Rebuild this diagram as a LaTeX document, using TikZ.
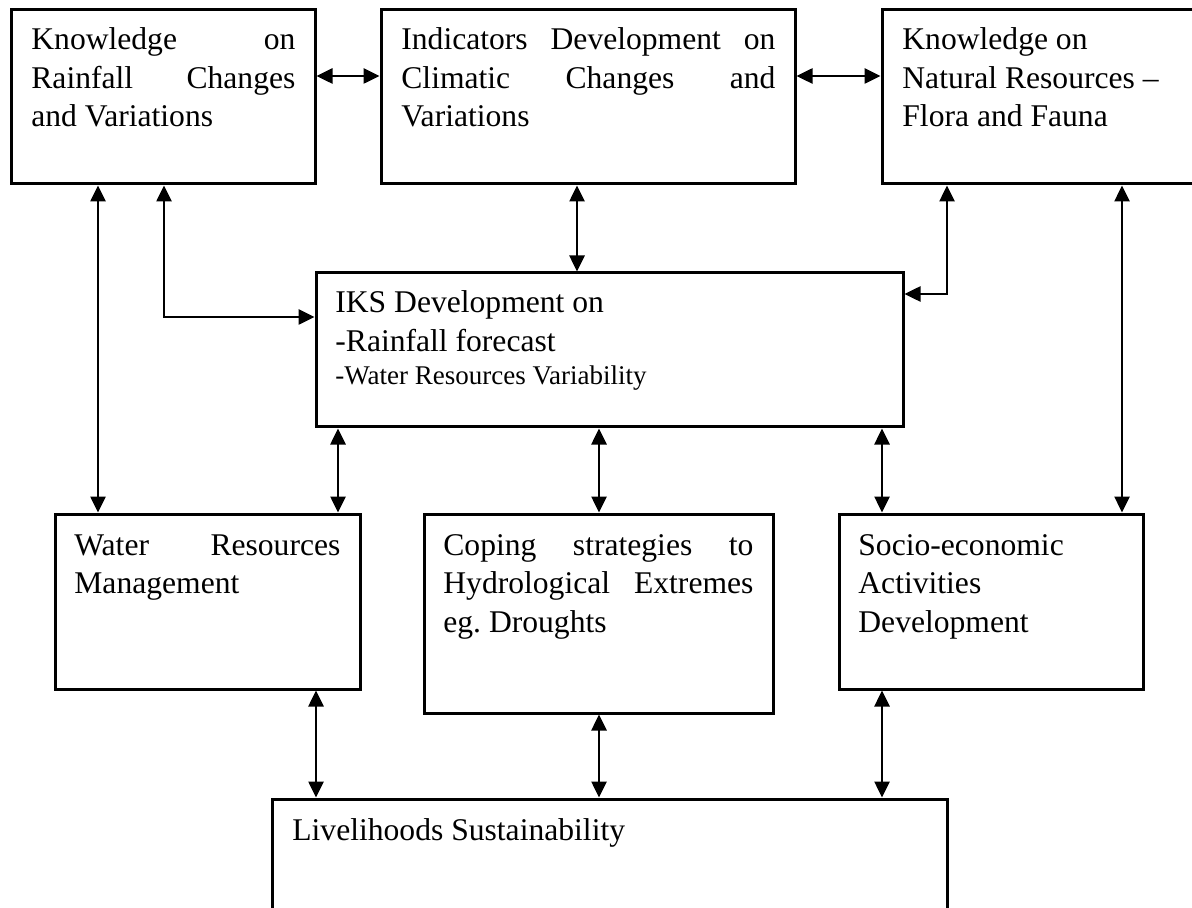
\documentclass[tikz,border=0pt]{standalone}
\usepackage{fontspec}
\setmainfont{Liberation Serif}
\usetikzlibrary{fit,arrows.meta,calc}
\frenchspacing
\newcommand{\bigtxt}{\fontsize{15.8pt}{19.25pt}\selectfont}
\newcommand{\smalltxt}{\fontsize{13.5pt}{16pt}\selectfont}
\begin{document}
\begin{tikzpicture}[x=0.5pt,y=-0.5pt,
  box/.style={draw,line width=1.5pt,inner sep=0pt,fill=none},
  txt/.style={inner sep=0pt,anchor=base west,font=\bigtxt},
  arr/.style={line width=1.3pt,{Triangle[length=8pt,width=7.5pt]}-{Triangle[length=8pt,width=7.5pt]}}]
\clip (0,0) rectangle (1192,908);
\fill[white] (0,0) rectangle (1192,908);
% boxes
\node[box,fit={(11,10) (315,184)}] (A) {};
\node[box,fit={(381,10) (795,184)}] (B) {};
\node[box,fit={(882,10) (1230,184)}] (C) {};
\node[box,fit={(316,273) (903,427)}] (I) {};
\node[box,fit={(55,514) (360,689)}] (W) {};
\node[box,fit={(424,514) (773,713)}] (P) {};
\node[box,fit={(839,514) (1143,689)}] (S) {};
\node[box,fit={(272,799) (947,960)}] (L) {};
% texts
\node[txt] (At) at (31,50) {\parbox[t]{132pt}{Knowledge\hfill on\\Rainfall\hfill Changes\\and Variations}};
\node[txt] (Bt) at (401,50) {\parbox[t]{187pt}{Indicators\hfill Development\hfill on\\Climatic\hfill Changes\hfill and\\Variations}};
\node[txt] (Ct) at (902,50) {\parbox[t]{160pt}{Knowledge on\\Natural Resources --\\Flora and Fauna}};
\node[txt] (It) at (335,313) {\parbox[t]{270pt}{IKS Development on\\-Rainfall forecast\\[-2.6pt]{\smalltxt -Water Resources Variability}}};
\node[txt] (Wt) at (74,555) {\parbox[t]{133pt}{Water\hfill Resources\\Management}};
\node[txt] (Pt) at (443,555) {\parbox[t]{155pt}{Coping\hfill strategies\hfill to\\Hydrological\hfill Extremes\\eg. Droughts}};
\node[txt] (St) at (858,555) {\parbox[t]{140pt}{Socio-economic\\Activities\\Development}};
\node[txt] (Lt) at (292,840) {Livelihoods Sustainability};
% helper coordinates
\coordinate (ytop) at (0,76);
\coordinate (x98) at (98,0);
\coordinate (x164) at (164,0);
\coordinate (yIa) at (0,317);
\coordinate (x577) at (577,0);
\coordinate (x947) at (947,0);
\coordinate (yIb) at (0,294);
\coordinate (x1122) at (1122,0);
\coordinate (x338) at (338,0);
\coordinate (x599) at (599,0);
\coordinate (x882) at (882,0);
\coordinate (x316) at (316,0);
% connectors
\draw[arr] (A.east |- ytop) -- (B.west |- ytop);
\draw[arr] (B.east |- ytop) -- (C.west |- ytop);
\draw[arr] (A.south -| x98) -- (W.north -| x98);
\draw[arr] (A.south -| x164) |- (I.west |- yIa);
\draw[arr] (B.south -| x577) -- (I.north -| x577);
\draw[arr] (C.south -| x947) |- (I.east |- yIb);
\draw[arr] (C.south -| x1122) -- (S.north -| x1122);
\draw[arr] (I.south -| x338) -- (W.north -| x338);
\draw[arr] (I.south -| x599) -- (P.north -| x599);
\draw[arr] (I.south -| x882) -- (S.north -| x882);
\draw[arr] (W.south -| x316) -- (L.north -| x316);
\draw[arr] (P.south -| x599) -- (L.north -| x599);
\draw[arr] (S.south -| x882) -- (L.north -| x882);
\end{tikzpicture}
\end{document}
